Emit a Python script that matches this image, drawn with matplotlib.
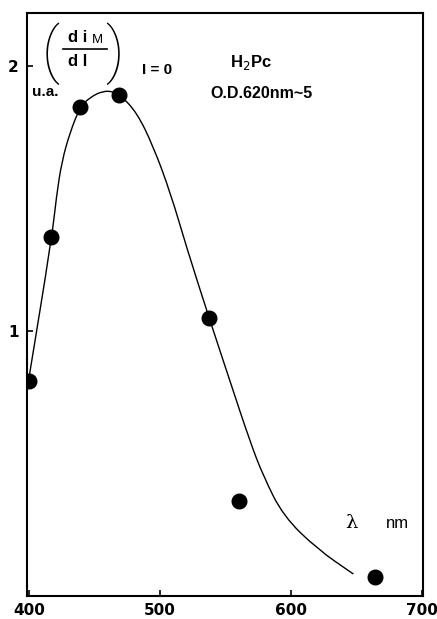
import matplotlib
matplotlib.use("Agg")
import matplotlib.pyplot as plt
from matplotlib.lines import Line2D
from matplotlib.path import Path
from matplotlib.patches import PathPatch

# measured points
wavelength = [400, 417, 439, 469, 537, 560, 664]
response = [0.81, 1.355, 1.845, 1.89, 1.05, 0.36, 0.07]

# hand-drawn guide curve
curve_x = [399.5, 417.4, 421.0, 425.0, 431.3, 439.0, 446.6, 456.5, 464.4, 469.5,
           482.2, 494.7, 508.0, 520.6, 537.4, 553.5, 568.7, 578.7, 593.9,
           619.9, 647.4]
curve_y = [0.808, 1.351, 1.510, 1.638, 1.750, 1.845, 1.882, 1.906, 1.903, 1.891,
           1.825, 1.698, 1.520, 1.309, 1.049, 0.808, 0.581, 0.453, 0.302,
           0.177, 0.083]

x_ticks = [400, 500, 600, 700]
y_ticks = [1, 2]

W, H = 437, 619
fig = plt.figure(figsize=(W / 100, H / 100), dpi=100)
L, R, T, B = 27, 423, 13, 596
ax = fig.add_axes([L / W, 1 - B / H, (R - L) / W, (B - T) / H])
ax.set_xlim(398.5, 700.5)
ax.set_ylim(0, 2.2)

# smooth guide curve: quadratic Bezier segments with the read points as controls
pts = list(zip(curve_x, curve_y))
verts = [pts[0]]
codes = [Path.MOVETO]
mid = lambda a, b: ((a[0] + b[0]) / 2, (a[1] + b[1]) / 2)
verts.append(mid(pts[0], pts[1]))
codes.append(Path.LINETO)
for i in range(1, len(pts) - 1):
    verts += [pts[i], mid(pts[i], pts[i + 1])]
    codes += [Path.CURVE3, Path.CURVE3]
verts.append(pts[-1])
codes.append(Path.LINETO)
ax.add_patch(PathPatch(Path(verts, codes), fill=False, edgecolor="black",
                       lw=1.0, transform=ax.transData, zorder=2))

ax.plot(wavelength, response, "o", color="black", ms=10.5, zorder=3)

tickfont = dict(family="DejaVu Sans", fontweight="bold", fontsize=11)
ax.set_xticks(x_ticks)
ax.set_xticklabels([str(v) for v in x_ticks], **tickfont)
ax.set_yticks(y_ticks)
ax.set_yticklabels([str(v) for v in y_ticks], **tickfont)
ax.tick_params(direction="in", length=4, width=1.2, pad=6)
ax.tick_params(axis="x", pad=5)
for s in ax.spines.values():
    s.set_linewidth(1.5)


def px(x, y):
    return x / W, 1 - y / H


bold = dict(family="Liberation Sans", fontweight="bold")


def ftext(x, y, s, **kw):
    fig.text(*px(x, y), s, ha="center", va="center", **kw)


# derivative label
ftext(51, 54, "(", fontsize=44, family="Roboto", fontweight="light")
ftext(114, 54, ")", fontsize=44, family="Roboto", fontweight="light")
ftext(78, 37, "d i", fontsize=12, **bold)
ftext(97, 40, "M", fontsize=9.5, family="Liberation Sans")
fig.add_artist(Line2D([63 / W, 107 / W], [1 - 49 / H, 1 - 49 / H],
                      color="black", lw=1.2, transform=fig.transFigure))
ftext(78, 62, "d l", fontsize=12, **bold)
ftext(157, 70, "I = 0", fontsize=11, **bold)
ftext(45, 92, "u.a.", fontsize=11, **bold)

fig.text(230 / W, 1 - 62 / H, "H$_2$Pc", ha="left", va="center", fontsize=12,
         family="Liberation Sans", fontweight="bold")
fig.text(210 / W, 1 - 93 / H, "O.D.620nm~5", ha="left", va="center",
         fontsize=11.5, **bold)

ftext(351, 523, "λ", fontsize=14, family="DejaVu Serif")
ftext(397, 524, "nm", fontsize=12, family="Liberation Sans")

fig.savefig("out.png", dpi=100)
